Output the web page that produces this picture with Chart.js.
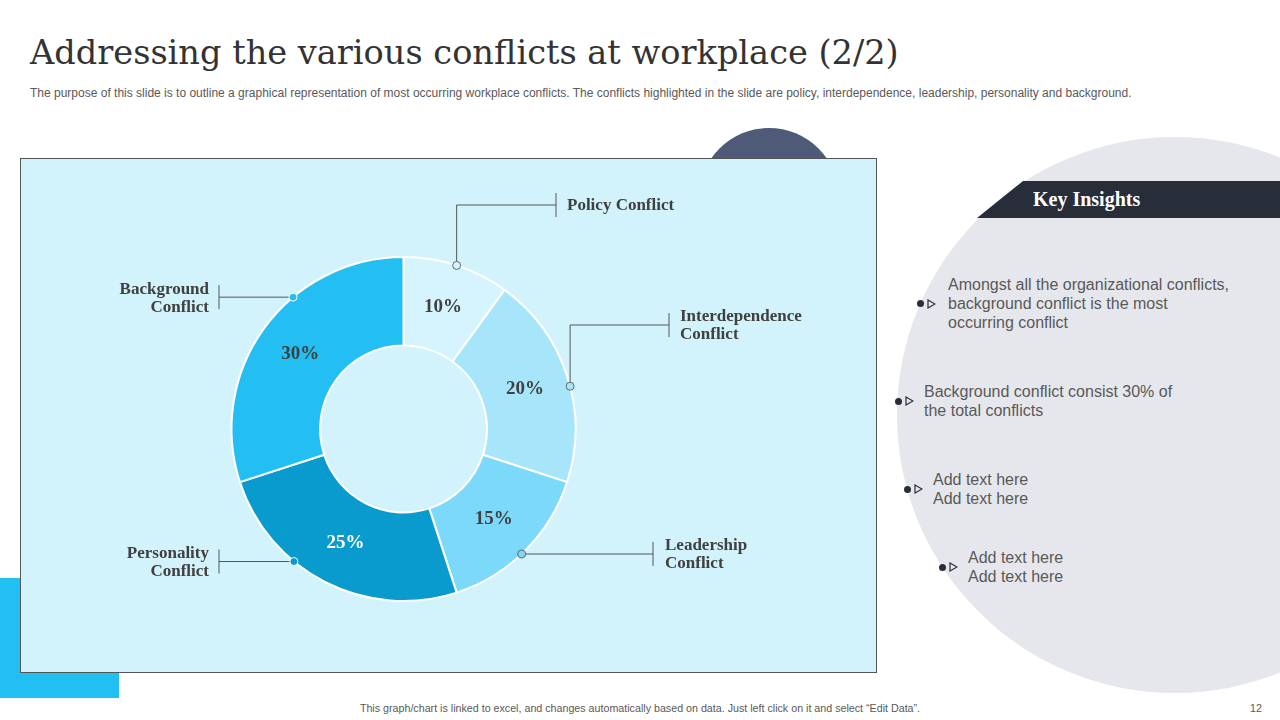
<!DOCTYPE html>
<html>
<head>
<meta charset="utf-8">
<script src="https://cdn.jsdelivr.net/npm/chart.js@4.4.1/dist/chart.umd.min.js"></script>
<style>
  html, body { margin: 0; padding: 0; }
  body { width: 1280px; height: 720px; position: relative; overflow: hidden; background: #fff; font-family: 'Liberation Sans', Arial, sans-serif; }
  .abs { position: absolute; }
  #title { left: 30px; top: 33px; font-family: 'DejaVu Serif', serif; font-size: 33.6px; color: #333; white-space: nowrap; }
  #subtitle { left: 30px; top: 86px; font-size: 12px; color: #595959; white-space: nowrap; }
  #blueBlock { left: 0; top: 578px; width: 119px; height: 120px; background: #22bff3; }
  #navyCircle { left: 699px; top: 128px; width: 140px; height: 140px; border-radius: 50%; background: #4f5a78; }
  #grayCircle { left: 897px; top: 137px; width: 556px; height: 556px; border-radius: 50%; background: #e6e7ec; }
  #chartBox { left: 20px; top: 158px; width: 855px; height: 513px; background: #d3f3fc; border: 1px solid #555; }
  #band { left: 977px; top: 181px; width: 303px; height: 37px; background: #282d3a; clip-path: polygon(46px 0, 100% 0, 100% 100%, 0 100%); }
  #bandText { left: 1033px; top: 188px; font-family: 'Liberation Serif', serif; font-weight: bold; font-size: 20px; color: #fff; }
  .bullet { font-size: 16px; line-height: 19px; color: #595959; }
  .dot { width: 7px; height: 7px; border-radius: 50%; background: #282d3a; }
  .tri svg { display: block; }
  #footer { left: 0; width: 1280px; top: 702px; text-align: center; font-size: 10.7px; color: #595959; }
  #pageNo { left: 1250px; top: 702px; font-size: 10.7px; color: #595959; }
</style>
</head>
<body>
<div id="title" class="abs">Addressing the various conflicts at workplace (2/2)</div>
<div id="subtitle" class="abs">The purpose of this slide is to outline a graphical representation of most occurring workplace conflicts. The conflicts highlighted in the slide are policy, interdependence, leadership, personality and background.</div>
<div id="blueBlock" class="abs"></div>
<div id="navyCircle" class="abs"></div>
<div id="grayCircle" class="abs"></div>
<div id="chartBox" class="abs"><canvas id="donut"></canvas></div>
<div id="band" class="abs"></div>
<div id="bandText" class="abs">Key Insights</div>
<div id="insights"></div>
<div id="footer" class="abs">This graph/chart is linked to excel, and changes automatically based on data. Just left click on it and select “Edit Data”.</div>
<div id="pageNo" class="abs">12</div>

<script>
// Data
const categories = [
    ['Policy Conflict'],
    ['Interdependence', 'Conflict'],
    ['Leadership', 'Conflict'],
    ['Personality', 'Conflict'],
    ['Background', 'Conflict']
];
const shares = [10, 20, 15, 25, 30];

const insights = [
    ['Amongst all the organizational conflicts,', 'background conflict is the most', 'occurring conflict'],
    ['Background conflict consist 30% of', 'the total conflicts'],
    ['Add text here', 'Add text here'],
    ['Add text here', 'Add text here']
];

// Styling / layout
const sliceColors = ['#d6f4fd', '#a7e6fa', '#7dd9fa', '#0a9bce', '#23bff3'];
const pctColors = ['#404040', '#404040', '#404040', '#ffffff', '#404040'];
const markerStroke = ['#666', '#666', '#666', '#fff', '#fff'];
// where on the slice the callout starts (fraction of slice angle), and how the line runs
const callouts = [
    { frac: 0.50, lineY: 46,  tickX: 535, labelX: 546, align: 'left' },
    { frac: 0.55, lineY: 166, tickX: 648, labelX: 659, align: 'left' },
    { frac: 0.53, lineY: null, tickX: 632, labelX: 644, align: 'left' },
    { frac: 0.64, lineY: null, tickX: 198, labelX: 188, align: 'right' },
    { frac: 0.63, lineY: null, tickX: 198, labelX: 188, align: 'right' }
];
const bulletPos = [
    { dotX: 917, textX: 948, top: 275 },
    { dotX: 895, textX: 924, top: 382 },
    { dotX: 904, textX: 933, top: 470 },
    { dotX: 939, textX: 968, top: 548 }
];

// Key insights bullets
const box = document.getElementById('insights');
insights.forEach((lines, i) => {
    const p = bulletPos[i];
    const midY = p.top + lines.length * 19 / 2;
    const dot = document.createElement('div');
    dot.className = 'abs dot';
    dot.style.left = p.dotX + 'px';
    dot.style.top = (midY - 3.5) + 'px';
    box.appendChild(dot);
    const tri = document.createElement('div');
    tri.className = 'abs tri';
    tri.innerHTML = '<svg width="9" height="10"><polygon points="1,1 8,5 1,9" fill="none" stroke="#282d3a" stroke-width="1.2"/></svg>';
    tri.style.left = (p.dotX + 10) + 'px';
    tri.style.top = (midY - 5) + 'px';
    box.appendChild(tri);
    const txt = document.createElement('div');
    txt.className = 'abs bullet';
    txt.style.left = p.textX + 'px';
    txt.style.top = p.top + 'px';
    txt.innerHTML = lines.join('<br>');
    box.appendChild(txt);
});

// Percent labels and callouts
const calloutPlugin = {
    id: 'callouts',
    afterDatasetsDraw(chart) {
        const ctx = chart.ctx;
        const meta = chart.getDatasetMeta(0);
        meta.data.forEach((arc, i) => {
            const { x, y, startAngle, endAngle, outerRadius } = arc.getProps(['x', 'y', 'startAngle', 'endAngle', 'outerRadius'], true);
            const c = arc.getCenterPoint(true);

            ctx.save();
            ctx.font = 'bold 19px "Liberation Serif", serif';
            ctx.fillStyle = pctColors[i];
            ctx.textAlign = 'center';
            ctx.textBaseline = 'middle';
            ctx.fillText(shares[i] + '%', c.x, c.y);

            const co = callouts[i];
            const a = startAngle + (endAngle - startAngle) * co.frac;
            const px = x + Math.cos(a) * outerRadius;
            const py = y + Math.sin(a) * outerRadius;
            const ly = co.lineY === null ? py : co.lineY;

            ctx.strokeStyle = '#555';
            ctx.lineWidth = 1;
            ctx.beginPath();
            ctx.moveTo(px, py);
            ctx.lineTo(px, ly);
            ctx.lineTo(co.tickX, ly);
            ctx.moveTo(co.tickX, ly - 12);
            ctx.lineTo(co.tickX, ly + 12);
            ctx.stroke();

            ctx.beginPath();
            ctx.arc(px, py, 4, 0, Math.PI * 2);
            ctx.fillStyle = sliceColors[i];
            ctx.fill();
            ctx.strokeStyle = markerStroke[i];
            ctx.stroke();

            const lines = categories[i];
            ctx.font = 'bold 17px "Liberation Serif", serif';
            ctx.fillStyle = '#404040';
            ctx.textAlign = co.align;
            lines.forEach((t, k) => {
                ctx.fillText(t, co.labelX, ly + (k - (lines.length - 1) / 2) * 18 + 1);
            });
            ctx.restore();
        });
    }
};

new Chart(document.getElementById('donut'), {
    type: 'doughnut',
    data: {
        labels: categories,
        datasets: [{
            data: shares,
            backgroundColor: sliceColors,
            borderColor: '#ffffff',
            borderWidth: 2
        }]
    },
    options: {
        responsive: true,
        maintainAspectRatio: false,
        animation: false,
        radius: 172,
        cutout: '48.5%',
        layout: { padding: { left: 0, right: 90, top: 98, bottom: 71 } },
        plugins: {
            legend: { display: false },
            tooltip: { enabled: false }
        }
    },
    plugins: [calloutPlugin]
});
</script>
</body>
</html>
